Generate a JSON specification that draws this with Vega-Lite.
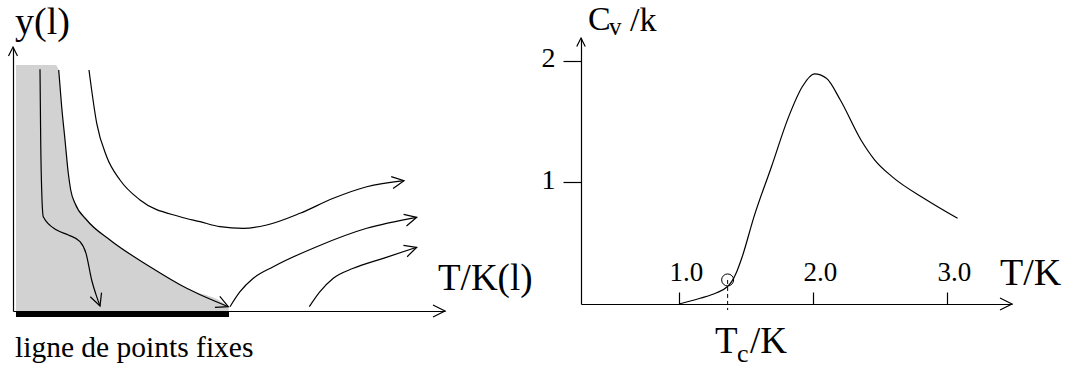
{
  "$schema": "https://vega.github.io/schema/vega-lite/v6.json",
  "background": "white",
  "autosize": {"type": "none"},
  "width": 1071,
  "height": 369,
  "padding": 0,
  "datasets": {
    "hatch": [
      {"x": 0.069, "y": 9.318}, {"x": 0.98, "y": 9.318}, {"x": 1.058, "y": 9.129},
      {"x": 1.127, "y": 7.739}, {"x": 1.204, "y": 6.477}, {"x": 1.28, "y": 5.216},
      {"x": 1.336, "y": 4.583}, {"x": 1.435, "y": 4.08}, {"x": 1.706, "y": 3.447},
      {"x": 2.245, "y": 2.689}, {"x": 3.171, "y": 1.678}, {"x": 4.021, "y": 0.86},
      {"x": 4.984, "y": 0.163}, {"x": 5.0, "y": 0.0}
    ],
    "fixedline": [{"x": 0.069, "x2": 5.0, "y": 0}],
    "flows": [
      {"c": "A", "i": 0, "x": 0.625, "y": 9.155}, {"c": "A", "i": 1, "x": 0.641, "y": 6.477},
      {"c": "A", "i": 2, "x": 0.664, "y": 4.583}, {"c": "A", "i": 3, "x": 0.701, "y": 3.572},
      {"c": "A", "i": 4, "x": 1.012, "y": 3.068}, {"c": "A", "i": 5, "x": 1.281, "y": 2.879},
      {"c": "A", "i": 6, "x": 1.551, "y": 2.626}, {"c": "A", "i": 7, "x": 1.69, "y": 2.184},
      {"c": "A", "i": 8, "x": 1.821, "y": 1.174}, {"c": "A", "i": 9, "x": 1.937, "y": 0.543},
      {"c": "A", "i": 10, "x": 2.014, "y": 0.189},
      {"c": "B", "i": 0, "x": 1.058, "y": 9.129}, {"c": "B", "i": 1, "x": 1.127, "y": 7.739},
      {"c": "B", "i": 2, "x": 1.204, "y": 6.477}, {"c": "B", "i": 3, "x": 1.28, "y": 5.216},
      {"c": "B", "i": 4, "x": 1.336, "y": 4.583}, {"c": "B", "i": 5, "x": 1.435, "y": 4.08},
      {"c": "B", "i": 6, "x": 1.706, "y": 3.447}, {"c": "B", "i": 7, "x": 2.245, "y": 2.689},
      {"c": "B", "i": 8, "x": 3.171, "y": 1.678}, {"c": "B", "i": 9, "x": 4.021, "y": 0.86},
      {"c": "B", "i": 10, "x": 4.984, "y": 0.163},
      {"c": "C", "i": 0, "x": 1.759, "y": 9.129}, {"c": "C", "i": 1, "x": 1.938, "y": 7.11},
      {"c": "C", "i": 2, "x": 2.169, "y": 5.845}, {"c": "C", "i": 3, "x": 2.477, "y": 4.962},
      {"c": "C", "i": 4, "x": 2.94, "y": 4.205}, {"c": "C", "i": 5, "x": 3.866, "y": 3.572},
      {"c": "C", "i": 6, "x": 4.329, "y": 3.383}, {"c": "C", "i": 7, "x": 4.792, "y": 3.193},
      {"c": "C", "i": 8, "x": 5.331, "y": 3.133}, {"c": "C", "i": 9, "x": 5.873, "y": 3.258},
      {"c": "C", "i": 10, "x": 6.644, "y": 3.701}, {"c": "C", "i": 11, "x": 7.414, "y": 4.269},
      {"c": "C", "i": 12, "x": 8.188, "y": 4.708}, {"c": "C", "i": 13, "x": 9.051, "y": 4.936},
      {"c": "D", "i": 0, "x": 5.023, "y": 0.163}, {"c": "D", "i": 1, "x": 5.255, "y": 0.731},
      {"c": "D", "i": 2, "x": 5.562, "y": 1.239}, {"c": "D", "i": 3, "x": 6.025, "y": 1.678},
      {"c": "D", "i": 4, "x": 7.03, "y": 2.436}, {"c": "D", "i": 5, "x": 8.188, "y": 3.133},
      {"c": "D", "i": 6, "x": 9.345, "y": 3.549},
      {"c": "E", "i": 0, "x": 6.859, "y": 0.163}, {"c": "E", "i": 1, "x": 7.106, "y": 0.731},
      {"c": "E", "i": 2, "x": 7.414, "y": 1.239}, {"c": "E", "i": 3, "x": 7.877, "y": 1.617},
      {"c": "E", "i": 4, "x": 8.572, "y": 1.996}, {"c": "E", "i": 5, "x": 9.345, "y": 2.413}
    ],
    "lheads": [
      {"id": "A", "x": 2.014, "y": 0.189},
      {"id": "B", "x": 4.984, "y": 0.163},
      {"id": "C", "x": 9.051, "y": 4.936},
      {"id": "D", "x": 9.345, "y": 3.549},
      {"id": "E", "x": 9.345, "y": 2.413}
    ],
    "laxes": [
      {"id": "X", "x": 10, "y": 0},
      {"id": "Y", "x": 0, "y": 10}
    ],
    "cv": [
      {"x": 1.0, "y": 0.0}, {"x": 1.157, "y": 0.047}, {"x": 1.281, "y": 0.093},
      {"x": 1.36, "y": 0.142}, {"x": 1.393, "y": 0.184}, {"x": 1.431, "y": 0.266},
      {"x": 1.468, "y": 0.376}, {"x": 1.56, "y": 0.719}, {"x": 1.69, "y": 1.13},
      {"x": 1.818, "y": 1.54}, {"x": 1.921, "y": 1.79}, {"x": 2.011, "y": 1.893},
      {"x": 2.1, "y": 1.857}, {"x": 2.204, "y": 1.679}, {"x": 2.358, "y": 1.35},
      {"x": 2.461, "y": 1.185}, {"x": 2.59, "y": 1.048}, {"x": 2.848, "y": 0.856},
      {"x": 3.079, "y": 0.705}
    ],
    "tc": [{"x": 1.363, "y": 0.198}],
    "raxes": [
      {"id": "X", "x": 3.4851, "y": 0},
      {"id": "Y", "x": 0.2687, "y": 2.189}
    ],
    "notes": [
      {"key": "yl", "text": "y(l)", "x": 0, "y": 10},
      {"key": "tkl", "text": "T/K(l)", "x": 10, "y": 0},
      {"key": "ligne", "text": "ligne de points fixes", "x": 0, "y": 0},
      {"key": "C", "text": "C", "x": 0.2687, "y": 2.189},
      {"key": "v", "text": "v", "x": 0.2687, "y": 2.189},
      {"key": "k", "text": "/k", "x": 0.2687, "y": 2.189},
      {"key": "TK", "text": "T/K", "x": 3.4851, "y": 0},
      {"key": "Tc1", "text": "T", "x": 1.363, "y": 0},
      {"key": "Tc2", "text": "c", "x": 1.363, "y": 0},
      {"key": "Tc3", "text": "/K", "x": 1.363, "y": 0}
    ]
  },
  "resolve": {
    "scale": {"x": "independent", "y": "independent"},
    "axis": {"x": "independent", "y": "independent"}
  },
  "layer": [
    {
      "encoding": {
        "x": {"field": "x", "type": "quantitative", "title": null,
              "scale": {"domain": [0, 10], "range": [13, 445], "nice": false, "zero": false},
              "axis": {"title": null, "orient": "bottom", "offset": -58, "ticks": false, "labels": false, "domain": true}},
        "y": {"field": "y", "type": "quantitative", "title": null,
              "scale": {"domain": [0, 10], "range": [311, 47], "nice": false, "zero": false},
              "axis": {"title": null, "orient": "left", "offset": -13, "ticks": false, "labels": false, "domain": true}}
      },
      "layer": [
        {"data": {"name": "hatch"},
         "mark": {"type": "area", "interpolate": "monotone", "fill": "#d2d2d2", "opacity": 1},
         "encoding": {"y2": {"datum": 0}}},
        {"data": {"name": "fixedline"},
         "mark": {"type": "rule", "color": "black", "strokeWidth": 6, "strokeCap": "butt", "yOffset": 3},
         "encoding": {"x2": {"field": "x2"}}},
        {"data": {"name": "flows"},
         "mark": {"type": "line", "interpolate": "monotone", "color": "black", "strokeWidth": 1.2},
         "encoding": {"detail": {"field": "c", "type": "nominal"}, "order": {"field": "i", "type": "quantitative"}}},
        {"data": {"name": "lheads"},
         "mark": {"type": "point", "shape": "M -1 -0.5 L 0 0 L -1 0.5", "filled": false, "color": "black", "strokeWidth": 1.2, "size": 576, "opacity": 1},
         "encoding": {"angle": {"field": "id", "type": "nominal", "legend": null,
                                "scale": {"type": "ordinal", "domain": ["A", "B", "C", "D", "E"], "range": [70, 24, -9, -14, -18]}}}},
        {"data": {"name": "laxes"}, "transform": [{"filter": "datum.id == 'X'"}],
         "mark": {"type": "point", "shape": "M -1 -0.5 L 0 0 L -1 0.5", "filled": false, "color": "black", "strokeWidth": 1.2, "opacity": 1, "size": 576, "angle": 0}},
        {"data": {"name": "laxes"}, "transform": [{"filter": "datum.id == 'Y'"}],
         "mark": {"type": "point", "shape": "M -1 -0.5 L 0 0 L -1 0.5", "filled": false, "color": "black", "strokeWidth": 1.2, "opacity": 1, "size": 324, "angle": 270}},
        {"data": {"name": "notes"}, "transform": [{"filter": "datum.key == 'yl'"}],
         "mark": {"type": "text", "align": "left", "baseline": "alphabetic", "dx": 2, "dy": -13, "font": "Liberation Serif", "fontSize": 38, "color": "black"},
         "encoding": {"text": {"field": "text"}}},
        {"data": {"name": "notes"}, "transform": [{"filter": "datum.key == 'tkl'"}],
         "mark": {"type": "text", "align": "left", "baseline": "alphabetic", "dx": -7, "dy": -21, "font": "Liberation Serif", "fontSize": 37, "color": "black"},
         "encoding": {"text": {"field": "text"}}},
        {"data": {"name": "notes"}, "transform": [{"filter": "datum.key == 'ligne'"}],
         "mark": {"type": "text", "align": "left", "baseline": "alphabetic", "dx": 2, "dy": 46, "font": "Liberation Serif", "fontSize": 29.5, "color": "black"},
         "encoding": {"text": {"field": "text"}}}
      ]
    },
    {
      "encoding": {
        "x": {"field": "x", "type": "quantitative", "title": null,
              "scale": {"domain": [0.2687, 3.4851], "range": [581, 1012], "nice": false, "zero": false},
              "axis": {"title": null, "orient": "bottom", "offset": -65, "values": [1, 2, 3], "format": ".1f",
                       "tickSize": -12, "labelPadding": -12, "labelBaseline": "alphabetic", "labelOffset": 7,
                       "labelFlush": false, "labelOverlap": false, "labelFontSize": 27}},
        "y": {"field": "y", "type": "quantitative", "title": null,
              "scale": {"domain": [0, 2.189], "range": [304, 38], "nice": false, "zero": false},
              "axis": {"title": null, "orient": "left", "offset": -581, "values": [1, 2], "format": "d", "tickSize": 18, "labelPadding": 8,
                       "labelBaseline": "alphabetic", "labelOffset": 6, "labelFontSize": 28, "labelOverlap": false}}
      },
      "layer": [
        {"data": {"name": "cv"},
         "mark": {"type": "line", "interpolate": "monotone", "color": "black", "strokeWidth": 1.2}},
        {"data": {"name": "tc"},
         "mark": {"type": "rule", "color": "black", "strokeWidth": 1, "strokeDash": [4, 3]},
         "encoding": {"y2": {"datum": -0.05}}},
        {"data": {"name": "tc"},
         "mark": {"type": "point", "shape": "circle", "filled": false, "color": "black", "size": 144, "strokeWidth": 1, "opacity": 1}},
        {"data": {"name": "raxes"}, "transform": [{"filter": "datum.id == 'X'"}],
         "mark": {"type": "point", "shape": "M -1 -0.5 L 0 0 L -1 0.5", "filled": false, "color": "black", "strokeWidth": 1.2, "opacity": 1, "size": 576, "angle": 0}},
        {"data": {"name": "raxes"}, "transform": [{"filter": "datum.id == 'Y'"}],
         "mark": {"type": "point", "shape": "M -1 -0.5 L 0 0 L -1 0.5", "filled": false, "color": "black", "strokeWidth": 1.2, "opacity": 1, "size": 289, "angle": 270}},
        {"data": {"name": "notes"}, "transform": [{"filter": "datum.key == 'C'"}],
         "mark": {"type": "text", "align": "left", "baseline": "alphabetic", "dx": 7, "dy": -8, "font": "Liberation Serif", "fontSize": 34, "color": "black"},
         "encoding": {"text": {"field": "text"}}},
        {"data": {"name": "notes"}, "transform": [{"filter": "datum.key == 'v'"}],
         "mark": {"type": "text", "align": "left", "baseline": "alphabetic", "dx": 28, "dy": -3, "font": "Liberation Serif", "fontSize": 25, "color": "black"},
         "encoding": {"text": {"field": "text"}}},
        {"data": {"name": "notes"}, "transform": [{"filter": "datum.key == 'k'"}],
         "mark": {"type": "text", "align": "left", "baseline": "alphabetic", "dx": 49, "dy": -7, "font": "Liberation Serif", "fontSize": 34, "color": "black"},
         "encoding": {"text": {"field": "text"}}},
        {"data": {"name": "notes"}, "transform": [{"filter": "datum.key == 'TK'"}],
         "mark": {"type": "text", "align": "left", "baseline": "alphabetic", "dx": -12, "dy": -19, "font": "Liberation Serif", "fontSize": 38, "color": "black"},
         "encoding": {"text": {"field": "text"}}},
        {"data": {"name": "notes"}, "transform": [{"filter": "datum.key == 'Tc1'"}],
         "mark": {"type": "text", "align": "left", "baseline": "alphabetic", "dx": -12.6, "dy": 49, "font": "Liberation Serif", "fontSize": 37, "color": "black"},
         "encoding": {"text": {"field": "text"}}},
        {"data": {"name": "notes"}, "transform": [{"filter": "datum.key == 'Tc2'"}],
         "mark": {"type": "text", "align": "left", "baseline": "alphabetic", "dx": 9.4, "dy": 58, "font": "Liberation Serif", "fontSize": 26, "color": "black"},
         "encoding": {"text": {"field": "text"}}},
        {"data": {"name": "notes"}, "transform": [{"filter": "datum.key == 'Tc3'"}],
         "mark": {"type": "text", "align": "left", "baseline": "alphabetic", "dx": 22.4, "dy": 49, "font": "Liberation Serif", "fontSize": 37, "color": "black"},
         "encoding": {"text": {"field": "text"}}}
      ]
    }
  ],
  "config": {
    "view": {"stroke": null},
    "axis": {"domainColor": "black", "tickColor": "black", "domainWidth": 1.2, "tickWidth": 1.2,
             "grid": false, "labelColor": "black", "labelFont": "Liberation Serif"}
  }
}
